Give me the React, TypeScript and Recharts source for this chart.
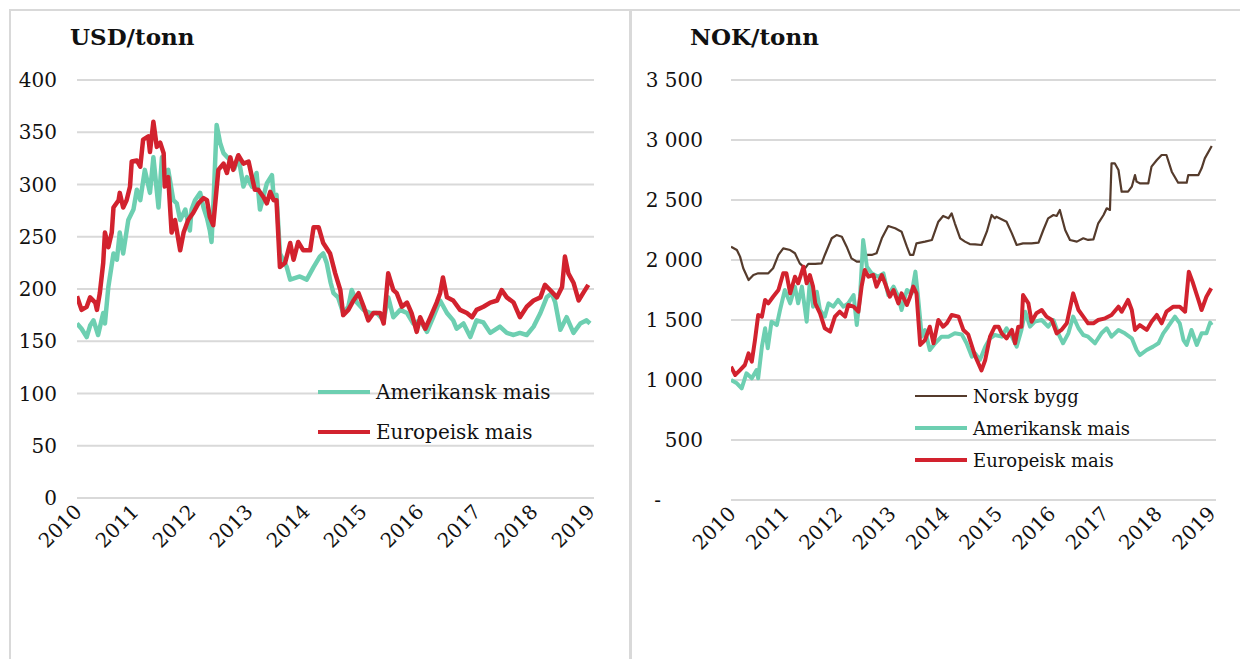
import { LineChart, Line, XAxis, YAxis, CartesianGrid, Legend } from 'recharts'

const FONT = '"DejaVu Serif", Georgia, serif'
const GREEN = '#6dcfb1'
const RED = '#d2222e'
const BROWN = '#553b2c'
const GRID = '#d9d9d9'

const years = [2010, 2011, 2012, 2013, 2014, 2015, 2016, 2017, 2018, 2019]
const usdTicks = [0, 50, 100, 150, 200, 250, 300, 350, 400]
const nokTicks = [0, 500, 1000, 1500, 2000, 2500, 3000, 3500]

const leftTitle = 'USD/tonn'
const rightTitle = 'NOK/tonn'
const nameNorsk = 'Norsk bygg'
const nameAmerikansk = 'Amerikansk mais'
const nameEuropeisk = 'Europeisk mais'

// [år, USD/tonn]
const usdAmerikansk: [number, number][] = [
  [2010.0, 167], [2010.08, 162], [2010.17, 154], [2010.23, 165], [2010.29, 170], [2010.37, 156],
  [2010.46, 177], [2010.49, 167], [2010.55, 202], [2010.64, 234], [2010.7, 228], [2010.75, 254],
  [2010.81, 234], [2010.9, 266], [2010.99, 276], [2011.05, 295], [2011.11, 285], [2011.19, 314],
  [2011.28, 292], [2011.34, 326], [2011.43, 278], [2011.49, 326], [2011.54, 311], [2011.6, 314],
  [2011.69, 285], [2011.75, 282], [2011.81, 266], [2011.9, 276], [2011.98, 256], [2012.01, 276],
  [2012.07, 285], [2012.16, 292], [2012.22, 278], [2012.28, 268], [2012.33, 256], [2012.36, 245],
  [2012.4, 290], [2012.45, 357], [2012.51, 340], [2012.57, 330], [2012.69, 323], [2012.76, 315],
  [2012.83, 327], [2012.92, 298], [2012.98, 307], [2013.07, 298], [2013.15, 311], [2013.21, 276],
  [2013.33, 301], [2013.42, 309], [2013.45, 288], [2013.5, 290], [2013.56, 234], [2013.68, 221],
  [2013.74, 209], [2013.91, 212], [2014.03, 209], [2014.15, 221], [2014.26, 231], [2014.32, 234],
  [2014.38, 225], [2014.45, 206], [2014.5, 196], [2014.58, 192], [2014.67, 177], [2014.76, 183],
  [2014.82, 199], [2014.91, 187], [2015.03, 180], [2015.14, 177], [2015.26, 177], [2015.38, 170],
  [2015.46, 192], [2015.55, 173], [2015.67, 180], [2015.79, 177], [2015.9, 167], [2016.02, 170],
  [2016.14, 159], [2016.25, 173], [2016.37, 189], [2016.49, 177], [2016.6, 170], [2016.66, 162],
  [2016.78, 167], [2016.9, 154], [2017.01, 170], [2017.13, 168], [2017.25, 158], [2017.42, 164],
  [2017.54, 158], [2017.66, 156], [2017.77, 158], [2017.89, 156], [2018.01, 164], [2018.13, 177],
  [2018.24, 192], [2018.33, 196], [2018.39, 187], [2018.48, 161], [2018.59, 173], [2018.71, 158],
  [2018.83, 167], [2018.94, 170], [2019.0, 167],
]

const usdEuropeisk: [number, number][] = [
  [2010.0, 193], [2010.08, 180], [2010.17, 183], [2010.23, 192], [2010.32, 187], [2010.35, 180],
  [2010.4, 196], [2010.46, 225], [2010.49, 254], [2010.55, 240], [2010.61, 254], [2010.64, 278],
  [2010.73, 285], [2010.75, 292], [2010.81, 278], [2010.87, 285], [2010.93, 298], [2010.96, 322],
  [2011.05, 323], [2011.11, 317], [2011.16, 343], [2011.25, 346], [2011.28, 331], [2011.34, 360],
  [2011.4, 336], [2011.46, 340], [2011.52, 330], [2011.54, 298], [2011.6, 307], [2011.66, 254],
  [2011.72, 266], [2011.81, 237], [2011.87, 254], [2011.95, 266], [2012.04, 273], [2012.13, 282],
  [2012.22, 287], [2012.28, 285], [2012.33, 269], [2012.39, 261], [2012.48, 314], [2012.57, 320],
  [2012.63, 311], [2012.69, 326], [2012.74, 314], [2012.83, 328], [2012.92, 320], [2013.01, 322],
  [2013.07, 307], [2013.12, 295], [2013.18, 295], [2013.27, 288], [2013.33, 282], [2013.39, 293],
  [2013.45, 285], [2013.5, 285], [2013.56, 221], [2013.65, 225], [2013.74, 244], [2013.8, 228],
  [2013.88, 245], [2013.97, 237], [2014.09, 237], [2014.15, 259], [2014.24, 259], [2014.32, 244],
  [2014.44, 234], [2014.53, 215], [2014.62, 199], [2014.67, 175], [2014.76, 180], [2014.85, 189],
  [2014.94, 196], [2015.03, 183], [2015.11, 170], [2015.2, 177], [2015.32, 177], [2015.38, 167],
  [2015.46, 215], [2015.55, 199], [2015.61, 196], [2015.7, 183], [2015.79, 187], [2015.87, 177],
  [2015.96, 159], [2016.02, 173], [2016.11, 162], [2016.2, 173], [2016.31, 187], [2016.37, 196],
  [2016.42, 211], [2016.49, 192], [2016.6, 189], [2016.72, 180], [2016.84, 177], [2016.93, 173],
  [2017.01, 180], [2017.13, 183], [2017.25, 187], [2017.37, 189], [2017.45, 199], [2017.54, 192],
  [2017.66, 187], [2017.77, 173], [2017.89, 183], [2018.01, 189], [2018.13, 192], [2018.21, 204],
  [2018.3, 199], [2018.42, 192], [2018.51, 202], [2018.56, 231], [2018.62, 215], [2018.71, 206],
  [2018.8, 189], [2018.89, 197], [2018.97, 204],
]

// [år, NOK/tonn]
const nokNorskBygg: [number, number][] = [
  [2010.0, 2111], [2010.11, 2083], [2010.17, 2028], [2010.23, 1931], [2010.33, 1833], [2010.42, 1875],
  [2010.51, 1889], [2010.7, 1889], [2010.79, 1931], [2010.89, 2042], [2010.98, 2097], [2011.11, 2083],
  [2011.2, 2056], [2011.29, 1972], [2011.39, 1931], [2011.45, 1967], [2011.58, 1967], [2011.7, 1972],
  [2011.76, 2042], [2011.89, 2181], [2011.98, 2208], [2012.08, 2194], [2012.17, 2111], [2012.26, 2014],
  [2012.36, 1986], [2012.45, 1986], [2012.55, 2042], [2012.64, 2042], [2012.73, 2056], [2012.83, 2181],
  [2012.95, 2283], [2013.08, 2264], [2013.2, 2236], [2013.3, 2111], [2013.36, 2042], [2013.42, 2042],
  [2013.48, 2139], [2013.64, 2153], [2013.77, 2167], [2013.89, 2319], [2013.98, 2367], [2014.08, 2347],
  [2014.14, 2389], [2014.2, 2306], [2014.3, 2181], [2014.39, 2153], [2014.48, 2133], [2014.58, 2130],
  [2014.7, 2125], [2014.8, 2236], [2014.89, 2375], [2014.95, 2347], [2014.98, 2361], [2015.17, 2319],
  [2015.27, 2222], [2015.36, 2125], [2015.48, 2139], [2015.64, 2139], [2015.77, 2144], [2015.86, 2250],
  [2015.95, 2347], [2016.05, 2375], [2016.11, 2367], [2016.17, 2417], [2016.27, 2250], [2016.36, 2167],
  [2016.49, 2153], [2016.61, 2181], [2016.7, 2167], [2016.8, 2172], [2016.89, 2306], [2016.99, 2375],
  [2017.05, 2431], [2017.11, 2417], [2017.14, 2806], [2017.2, 2806], [2017.27, 2750], [2017.33, 2569],
  [2017.45, 2569], [2017.52, 2611], [2017.58, 2708], [2017.61, 2653], [2017.67, 2639], [2017.83, 2639],
  [2017.89, 2778], [2017.99, 2833], [2018.08, 2875], [2018.17, 2875], [2018.27, 2736], [2018.39, 2644],
  [2018.55, 2644], [2018.58, 2708], [2018.77, 2708], [2018.83, 2764], [2018.89, 2847], [2019.02, 2950],
]

const nokAmerikansk: [number, number][] = [
  [2010.0, 1000], [2010.11, 972], [2010.2, 931], [2010.29, 1056], [2010.39, 1014], [2010.48, 1083],
  [2010.51, 1014], [2010.58, 1278], [2010.64, 1431], [2010.69, 1264], [2010.76, 1486], [2010.86, 1458],
  [2010.92, 1583], [2011.01, 1750], [2011.11, 1639], [2011.2, 1778], [2011.26, 1639], [2011.33, 1778],
  [2011.42, 1486], [2011.48, 1833], [2011.54, 1611], [2011.61, 1736], [2011.67, 1583], [2011.76, 1528],
  [2011.83, 1639], [2011.92, 1611], [2012.01, 1667], [2012.11, 1611], [2012.2, 1639], [2012.3, 1708],
  [2012.36, 1458], [2012.42, 1694], [2012.48, 2167], [2012.55, 1944], [2012.64, 1889], [2012.76, 1861],
  [2012.86, 1889], [2012.95, 1708], [2013.05, 1778], [2013.14, 1694], [2013.2, 1583], [2013.3, 1750],
  [2013.39, 1722], [2013.46, 1903], [2013.51, 1694], [2013.58, 1361], [2013.64, 1417], [2013.73, 1250],
  [2013.83, 1306], [2013.95, 1361], [2014.08, 1361], [2014.2, 1389], [2014.33, 1380], [2014.42, 1306],
  [2014.52, 1194], [2014.58, 1222], [2014.67, 1167], [2014.77, 1278], [2014.86, 1347], [2014.95, 1375],
  [2015.08, 1361], [2015.17, 1431], [2015.27, 1361], [2015.36, 1278], [2015.45, 1417], [2015.52, 1569],
  [2015.61, 1444], [2015.7, 1486], [2015.83, 1500], [2015.95, 1444], [2016.05, 1500], [2016.14, 1389],
  [2016.23, 1306], [2016.33, 1389], [2016.42, 1528], [2016.52, 1431], [2016.61, 1375], [2016.7, 1361],
  [2016.83, 1306], [2016.95, 1389], [2017.05, 1431], [2017.14, 1361], [2017.27, 1417], [2017.39, 1389],
  [2017.52, 1347], [2017.61, 1250], [2017.67, 1208], [2017.8, 1250], [2017.92, 1278], [2018.02, 1306],
  [2018.11, 1389], [2018.2, 1444], [2018.33, 1528], [2018.42, 1472], [2018.49, 1333], [2018.55, 1292],
  [2018.64, 1417], [2018.74, 1292], [2018.83, 1389], [2018.92, 1389], [2018.99, 1478], [2019.02, 1458],
]

const nokEuropeisk: [number, number][] = [
  [2010.0, 1111], [2010.08, 1042], [2010.17, 1083], [2010.26, 1125], [2010.33, 1222], [2010.39, 1153],
  [2010.45, 1333], [2010.51, 1542], [2010.58, 1528], [2010.64, 1667], [2010.7, 1639], [2010.79, 1694],
  [2010.89, 1750], [2010.98, 1889], [2011.04, 1889], [2011.11, 1722], [2011.2, 1861], [2011.26, 1806],
  [2011.36, 1944], [2011.42, 1806], [2011.48, 1875], [2011.54, 1778], [2011.58, 1639], [2011.67, 1556],
  [2011.76, 1431], [2011.86, 1403], [2011.95, 1528], [2012.04, 1569], [2012.14, 1528], [2012.2, 1625],
  [2012.3, 1611], [2012.39, 1569], [2012.45, 1778], [2012.51, 1917], [2012.58, 1861], [2012.67, 1875],
  [2012.73, 1778], [2012.83, 1875], [2012.89, 1806], [2012.98, 1694], [2013.05, 1750], [2013.14, 1639],
  [2013.2, 1722], [2013.3, 1625], [2013.36, 1694], [2013.42, 1778], [2013.48, 1722], [2013.55, 1292],
  [2013.64, 1333], [2013.73, 1444], [2013.8, 1306], [2013.89, 1500], [2013.98, 1444], [2014.05, 1472],
  [2014.14, 1542], [2014.27, 1528], [2014.36, 1417], [2014.45, 1380], [2014.58, 1200], [2014.7, 1080],
  [2014.77, 1167], [2014.86, 1361], [2014.95, 1444], [2015.02, 1444], [2015.08, 1389], [2015.17, 1347],
  [2015.27, 1417], [2015.33, 1306], [2015.39, 1444], [2015.45, 1444], [2015.48, 1708], [2015.58, 1639],
  [2015.64, 1486], [2015.73, 1556], [2015.83, 1583], [2015.92, 1528], [2016.02, 1500], [2016.11, 1389],
  [2016.2, 1417], [2016.3, 1472], [2016.42, 1722], [2016.52, 1583], [2016.61, 1528], [2016.7, 1472],
  [2016.8, 1472], [2016.89, 1500], [2017.02, 1514], [2017.14, 1542], [2017.27, 1611], [2017.33, 1569],
  [2017.45, 1667], [2017.52, 1583], [2017.58, 1417], [2017.67, 1458], [2017.8, 1417], [2017.89, 1486],
  [2017.99, 1542], [2018.08, 1472], [2018.17, 1569], [2018.3, 1611], [2018.42, 1611], [2018.52, 1569],
  [2018.59, 1903], [2018.67, 1806], [2018.77, 1667], [2018.83, 1583], [2018.92, 1694], [2019.01, 1764],
]

const toRows = (pts: [number, number][]) => pts.map(([t, v]) => ({ t, v }))

const fmtNok = (v: number) => (v === 0 ? '-' : v >= 1000 ? `${Math.floor(v / 1000)} ${String(v % 1000).padStart(3, '0')}` : String(v))

function YearTick({ x, y, payload }: any) {
  const ax = x + 6
  const ay = y + 15
  return (
    <text x={ax} y={ay} transform={`rotate(-45 ${ax} ${ay})`} textAnchor="end"
      fontFamily={FONT} fontSize={20} fill="#111">
      {payload.value}
    </text>
  )
}

function ValueTick({ x, y, payload, nok }: any) {
  const label = nok ? fmtNok(payload.value) : String(payload.value)
  const shift = nok && payload.value === 0 ? -42 : 0
  return (
    <text x={x + shift} y={y} dy="0.35em" textAnchor="end" fontFamily={FONT} fontSize={20} fill="#111">
      {label}
    </text>
  )
}

function LegendBox({ items, rowH, fontSize }: { items: { name: string, color: string, w: number }[], rowH: number, fontSize: number }) {
  return (
    <div style={{ fontFamily: FONT, fontSize, color: '#111' }}>
      {items.map(it => (
        <div key={it.name} style={{ display: 'flex', alignItems: 'center', height: rowH }}>
          <span style={{ display: 'inline-block', width: 52, height: it.w, background: it.color, marginRight: 6 }} />
          <span>{it.name}</span>
        </div>
      ))}
    </div>
  )
}

const Title = ({ text, left }: { text: string, left: number }) => (
  <div style={{ position: 'absolute', left, top: 23, fontFamily: FONT, fontSize: 23, fontWeight: 'bold', color: '#111' }}>
    {text}
  </div>
)

export default function App() {
  return (
    <div style={{ position: 'absolute', left: 0, top: 0, width: 1240, height: 659, background: '#fff', overflow: 'hidden' }}>
      <div style={{ position: 'absolute', left: 9, top: 9, width: 1231, height: 2, background: GRID }} />
      <div style={{ position: 'absolute', left: 9, top: 9, width: 2, height: 650, background: GRID }} />
      <div style={{ position: 'absolute', left: 629, top: 9, width: 3, height: 650, background: GRID }} />

      <div style={{ position: 'absolute', left: 0, top: 0 }}>
        <LineChart width={620} height={659} margin={{ top: 80, right: 26, bottom: 131, left: 0 }}>
          <CartesianGrid vertical={false} stroke={GRID} strokeWidth={2} />
          <XAxis dataKey="t" type="number" domain={[2010, 2019.07]} ticks={years}
            allowDataOverflow axisLine={false} tickLine={false} tickSize={0} tickMargin={0}
            height={30} tick={<YearTick />} interval={0} />
          <YAxis domain={[0, 400]} ticks={usdTicks} width={77} axisLine={false} tickLine={false}
            tickSize={0} tickMargin={20} tick={<ValueTick />} interval={0} />
          <Line data={toRows(usdAmerikansk)} dataKey="v" name={nameAmerikansk} stroke={GREEN}
            strokeWidth={4.5} dot={false} isAnimationActive={false} strokeLinejoin="round" />
          <Line data={toRows(usdEuropeisk)} dataKey="v" name={nameEuropeisk} stroke={RED}
            strokeWidth={4.5} dot={false} isAnimationActive={false} strokeLinejoin="round" />
          <Legend layout="vertical" align="center" verticalAlign="middle"
            wrapperStyle={{ left: 318, top: 372, width: 280 }}
            content={() => (
              <LegendBox rowH={40} fontSize={20} items={[
                { name: nameAmerikansk, color: GREEN, w: 4 },
                { name: nameEuropeisk, color: RED, w: 4 },
              ]} />
            )} />
        </LineChart>
        <Title text={leftTitle} left={70} />
      </div>

      <div style={{ position: 'absolute', left: 620, top: 0 }}>
        <LineChart width={620} height={659} margin={{ top: 80, right: 24, bottom: 129, left: 0 }}>
          <CartesianGrid vertical={false} stroke={GRID} strokeWidth={2} />
          <XAxis dataKey="t" type="number" domain={[2010, 2019.1]} ticks={years}
            allowDataOverflow axisLine={false} tickLine={false} tickSize={0} tickMargin={0}
            height={30} tick={<YearTick />} interval={0} />
          <YAxis domain={[0, 3500]} ticks={nokTicks} width={111} axisLine={false} tickLine={false}
            tickSize={0} tickMargin={28} tick={<ValueTick nok />} interval={0} />
          <Line data={toRows(nokNorskBygg)} dataKey="v" name={nameNorsk} stroke={BROWN}
            strokeWidth={2.2} dot={false} isAnimationActive={false} strokeLinejoin="round" />
          <Line data={toRows(nokAmerikansk)} dataKey="v" name={nameAmerikansk} stroke={GREEN}
            strokeWidth={4} dot={false} isAnimationActive={false} strokeLinejoin="round" />
          <Line data={toRows(nokEuropeisk)} dataKey="v" name={nameEuropeisk} stroke={RED}
            strokeWidth={4} dot={false} isAnimationActive={false} strokeLinejoin="round" />
          <Legend layout="vertical" align="center" verticalAlign="middle"
            wrapperStyle={{ left: 295, top: 380, width: 300 }}
            content={() => (
              <LegendBox rowH={32} fontSize={18} items={[
                { name: nameNorsk, color: BROWN, w: 2 },
                { name: nameAmerikansk, color: GREEN, w: 4 },
                { name: nameEuropeisk, color: RED, w: 4 },
              ]} />
            )} />
        </LineChart>
        <Title text={rightTitle} left={70} />
      </div>
    </div>
  )
}
